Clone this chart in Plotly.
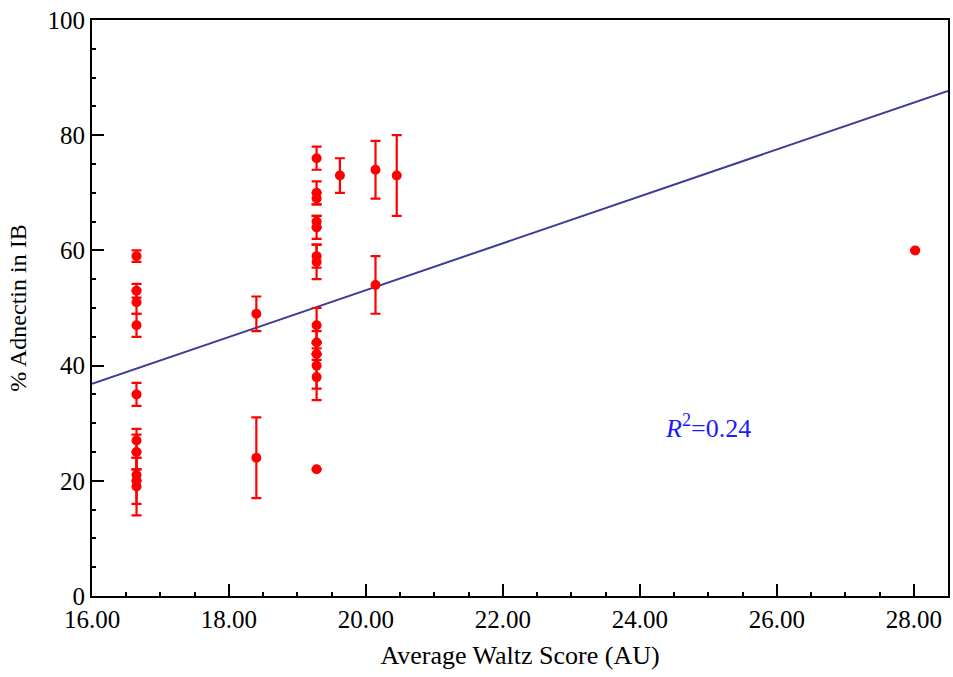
import plotly.graph_objects as go

# Data
waltz_score = [16.65]*10 + [18.40]*2 + [19.28]*13 + [19.62, 20.14, 20.14, 20.45, 28.02]
adnectin_pct = [59, 53, 51, 47, 35, 27, 25, 21, 20, 19,
                49, 24,
                76, 70, 69, 65, 64, 59, 58, 47, 44, 42, 40, 38, 22,
                73, 74, 54, 73, 60]
error_pct = [1, 1.2, 2, 2, 2, 2, 3, 1, 4, 5,
             3, 7,
             2, 2, 1, 1, 2, 2, 3, 3, 2, 1, 4, 4, 0,
             3, 5, 5, 7, 0]
fit_slope = 4.07
fit_intercept = -28.3
fit_x = [16.0, 28.5]
r2_text = "<i>R</i><sup>2</sup>=0.24"

fit_y = [fit_slope * x + fit_intercept for x in fit_x]

fig = go.Figure()
fig.add_trace(go.Scatter(
    x=fit_x, y=fit_y, mode="lines",
    line=dict(color="#3d3d99", width=2), showlegend=False, hoverinfo="skip"))
fig.add_trace(go.Scatter(
    x=waltz_score, y=adnectin_pct, mode="markers",
    marker=dict(color="#ff0000", size=10),
    error_y=dict(type="data", array=error_pct, visible=True,
                 color="#ff0000", thickness=2.2, width=5),
    showlegend=False))

fig.add_annotation(x=25.0, y=29.5, text=r2_text, showarrow=False,
                   font=dict(family="Liberation Serif", size=26, color="#1a1aff"))

font = "Liberation Serif"
fig.update_layout(
    width=953, height=677,
    margin=dict(l=92, r=3, t=20, b=81),
    paper_bgcolor="white", plot_bgcolor="white",
    font=dict(family=font, size=25, color="black"),
    xaxis=dict(range=[16, 28.5], tickvals=[16, 18, 20, 22, 24, 26, 28],
               ticktext=["16.00", "18.00", "20.00", "22.00", "24.00", "26.00", "28.00"],
               ticks="inside", ticklen=12, tickwidth=2, tickcolor="black",
               minor=dict(dtick=0.5, tick0=16, ticks="inside", ticklen=4, tickwidth=2, tickcolor="black"),
               showline=True, linecolor="black", linewidth=2, mirror=True,
               showgrid=False, zeroline=False,
               title=dict(text="Average Waltz Score (AU)", font=dict(family=font, size=26), standoff=14),
               tickfont=dict(family=font, size=25)),
    yaxis=dict(range=[0, 100], tickvals=[0, 20, 40, 60, 80, 100],
               ticks="inside", ticklen=12, tickwidth=2, tickcolor="black",
               minor=dict(dtick=5, tick0=0, ticks="inside", ticklen=4, tickwidth=2, tickcolor="black"),
               showline=True, linecolor="black", linewidth=2, mirror=True,
               showgrid=False, zeroline=False,
               title=dict(text="% Adnectin in IB", font=dict(family=font, size=24), standoff=14),
               tickfont=dict(family=font, size=25)),
)

fig.write_html("out.html")
